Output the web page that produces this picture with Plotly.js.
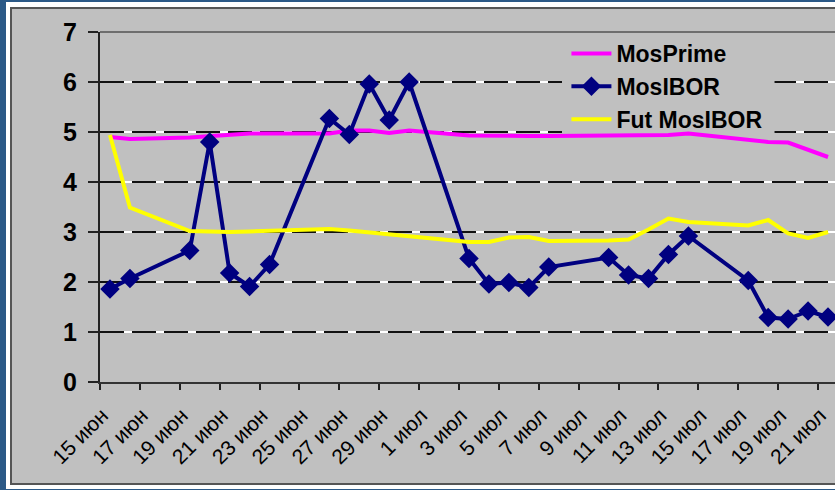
<!DOCTYPE html>
<html>
<head>
<meta charset="utf-8">
<script src="https://cdn.plot.ly/plotly-3.0.1.min.js"></script>
<style>
  html, body { margin: 0; padding: 0; overflow: hidden; background: #2b5987; width: 835px; height: 490px; }
  #frame { position: absolute; left: 6px; top: 2px; width: 900px; height: 487px; background: #ffffff; }
  #chart { position: absolute; left: 10px; top: 7px; width: 830px; height: 474px; border: 2px solid #555555; background: #c0c0c0; }
</style>
</head>
<body>
<div id="frame"></div>
<div id="chart"></div>
<script>
// Trading days (2006)
const dates = [
  '2006-06-15','2006-06-16','2006-06-19','2006-06-20','2006-06-21','2006-06-22','2006-06-23',
  '2006-06-26','2006-06-27','2006-06-28','2006-06-29','2006-06-30',
  '2006-07-03','2006-07-04','2006-07-05','2006-07-06','2006-07-07',
  '2006-07-10','2006-07-11','2006-07-12','2006-07-13','2006-07-14',
  '2006-07-17','2006-07-18','2006-07-19','2006-07-20','2006-07-21'
];
const mosPrime = [4.90,4.86,4.89,4.92,4.95,4.97,4.97, 4.97,5.03,5.03,4.98,5.03, 4.93,4.92,4.92,4.92,4.92, 4.93,4.94,4.94,4.94,4.97, 4.85,4.80,4.79,4.64,4.50];
const mosIBOR = [1.86,2.07,2.63,4.80,2.18,1.91,2.35, 5.27,4.95,5.96,5.24,6.00, 2.47,1.96,1.99,1.89,2.30, 2.49,2.14,2.07,2.55,2.92, 2.03,1.29,1.26,1.42,1.30];
const futMosIBOR = [4.94,3.49,3.02,3.00,3.00,3.01,3.02, 3.06,3.03,2.99,2.95,2.90, 2.80,2.80,2.89,2.90,2.82, 2.83,2.85,3.05,3.27,3.20, 3.13,3.24,2.97,2.88,3.00];

const tickDates = ['2006-06-15','2006-06-17','2006-06-19','2006-06-21','2006-06-23','2006-06-25','2006-06-27','2006-06-29',
  '2006-07-01','2006-07-03','2006-07-05','2006-07-07','2006-07-09','2006-07-11','2006-07-13','2006-07-15','2006-07-17','2006-07-19','2006-07-21'];
const tickLabels = ['15 июн','17 июн','19 июн','21 июн','23 июн','25 июн','27 июн','29 июн',
  '1 июл','3 июл','5 июл','7 июл','9 июл','11 июл','13 июл','15 июл','17 июл','19 июл','21 июл'];
const yTicks = [0, 1, 2, 3, 4, 5, 6, 7];
const xRange = ['2006-06-15','2006-07-22'];
const yRange = [0, 7];
const names = ['MosPrime','MosIBOR','Fut MosIBOR'];

const DAY = 86400000;
const traces = [
  {x: dates, y: mosPrime, name: names[0], type: 'scatter', mode: 'lines',
   xperiod: DAY, xperiodalignment: 'middle',
   line: {color: '#ff00ff', width: 4}},
  {x: dates, y: mosIBOR, name: names[1], type: 'scatter', mode: 'lines+markers',
   xperiod: DAY, xperiodalignment: 'middle',
   line: {color: '#000080', width: 4},
   marker: {symbol: 'diamond', size: 15, color: '#000080'}},
  {x: dates, y: futMosIBOR, name: names[2], type: 'scatter', mode: 'lines',
   xperiod: DAY, xperiodalignment: 'middle',
   line: {color: '#ffff00', width: 4}}
];

// Excel-style gridlines: white line under black dashes (inner ticks only)
const innerTicks = yTicks.filter(v => v > yRange[0] && v < yRange[1]);
const shapes = [];
innerTicks.forEach(v => shapes.push({type: 'line', layer: 'below', xref: 'x domain', yref: 'y',
  x0: 0, x1: 1, y0: v, y1: v, line: {color: '#ffffff', width: 2}}));
innerTicks.forEach(v => shapes.push({type: 'line', layer: 'below', xref: 'x domain', yref: 'y',
  x0: 0, x1: 1, y0: v, y1: v, line: {color: '#111111', width: 2, dash: '24px,8px'}}));
// plot-area top border
shapes.push({type: 'line', layer: 'below', xref: 'x domain', yref: 'y domain',
  x0: 0, x1: 1, y0: 1, y1: 1, line: {color: '#6e6e6e', width: 2}});
// legend background patch (hides gridlines behind the legend, stays under the lines)
shapes.push({type: 'rect', layer: 'below', xref: 'x domain', yref: 'y domain',
  x0: 0.626, x1: 0.914, y0: 0.707, y1: 0.985,
  fillcolor: '#c0c0c0', line: {width: 0}});

const layout = {
  width: 830, height: 474,
  margin: {l: 88, r: 4, t: 23, b: 101},
  paper_bgcolor: '#c0c0c0',
  plot_bgcolor: '#c0c0c0',
  font: {family: 'Liberation Sans, Arial, sans-serif', color: '#000000'},
  showlegend: true,
  legend: {
    x: 0.632, y: 1.0, xanchor: 'left', yanchor: 'top',
    bgcolor: 'rgba(0,0,0,0)',
    font: {size: 23, weight: 'bold', color: '#000000'},
    itemwidth: 40
  },
  shapes: shapes,
  xaxis: {
    type: 'date', range: xRange,
    tickmode: 'array', tickvals: tickDates, ticktext: tickLabels,
    tickangle: -45,
    tickfont: {size: 21, color: '#000000'},
    ticks: 'outside', ticklen: 6, tickwidth: 2, tickcolor: '#222222',
    ticklabelstandoff: 5, ticklabelshift: 2,
    showline: true, linecolor: '#333333', linewidth: 2,
    showgrid: false, zeroline: false
  },
  yaxis: {
    range: yRange, tickmode: 'array', tickvals: yTicks,
    tickfont: {size: 25, weight: 'bold', color: '#000000'},
    ticks: 'outside', ticklen: 10, tickwidth: 2, tickcolor: '#222222',
    ticklabelstandoff: 6,
    showline: true, linecolor: '#222222', linewidth: 2,
    showgrid: false, zeroline: false
  }
};

Plotly.newPlot('chart', traces, layout, {displayModeBar: false, staticPlot: true});
</script>
</body>
</html>
